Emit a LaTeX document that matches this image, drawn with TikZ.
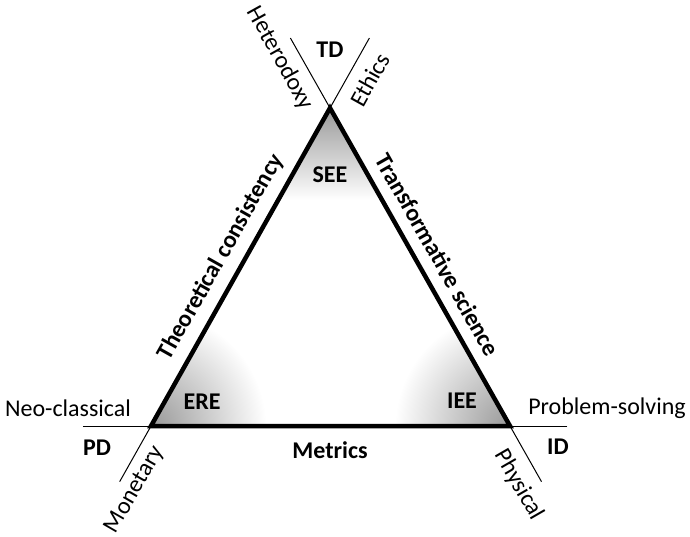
\documentclass[tikz,border=0pt]{standalone}
\usepackage{fontspec}
\setmainfont{Carlito}
\usetikzlibrary{calc}
\tikzstyle{pole}=[
   font=\fontsize{24}{28}\selectfont,
   inner sep=0pt
]
\tikzstyle{boldpole}=[
   font=\fontsize{24}{28}\selectfont\bfseries,
   inner sep=0pt
]
\tikzstyle{axisline}=[
   line width=1pt
]
\tikzstyle{sideline}=[
   line width=4.5pt,
   line join=miter
]
\tikzstyle{corner}=[
   inner color=black!40,
   outer color=white
]

\begin{document}
\begin{tikzpicture}[x=1pt, y=-1pt]
      \useasboundingbox (0,0) rectangle (690,536);

      % corners of the triangle
      \coordinate (A) at (330,108);
      \coordinate (B) at (151,426);
      \coordinate (C) at (510,426);

      % free ends of the axes
      \coordinate (ethicsend) at ($(A)!-0.22!(B)$);
      \coordinate (heteroend) at ($(A)!-0.22!(C)$);
      \coordinate (neoend) at ($(B)!-0.19!(C)$);
      \coordinate (moneyend) at ($(B)!-0.175!(A)$);
      \coordinate (probend) at ($(C)!-0.16!(B)$);
      \coordinate (physend) at ($(C)!-0.175!(A)$);

      \begin{scope}
         \clip (A) -- (B) -- (C) -- cycle;
         \shade[top color=black!40, bottom color=white] (240,108) rectangle (420,200);
         \shade[corner] (B) circle (115);
         \shade[corner] (C) circle (115);
      \end{scope}

      \draw[axisline] (heteroend) -- (A);
      \draw[axisline] (ethicsend) -- (A);
      \draw[axisline] (neoend) -- (B);
      \draw[axisline] (moneyend) -- (B);
      \draw[axisline] (probend) -- (C);
      \draw[axisline] (physend) -- (C);

      \draw[sideline] (A) -- (B) -- (C) -- cycle;

      \node (td) [boldpole] at (330,50) {TD};
      \node (hetero) [pole, rotate=-61] at (280,58) {Heterodoxy};
      \node (ethics) [pole, rotate=61] at (370,80) {Ethics};
      \node (see) [boldpole] at (330,175) {SEE};
      \node (theo) [boldpole, rotate=60.6] at (221,257) {Theoretical consistency};
      \node (trans) [boldpole, rotate=-60.5] at (438,255) {Transformative science};
      \node (ere) [boldpole] at (202,402) {ERE};
      \node (iee) [boldpole] at (462,401) {IEE};
      \node (neo) [pole] at (68,408) {Neo-classical};
      \node (prob) [pole] at (607,408) {Problem-solving};
      \node (pd) [boldpole] at (97,448) {PD};
      \node (id) [boldpole] at (558,447) {ID};
      \node (metrics) [boldpole] at (330,450) {Metrics};
      \node (money) [pole, rotate=60] at (135,490) {Monetary};
      \node (phys) [pole, rotate=-60] at (519,485) {Physical};

   \end{tikzpicture}
\end{document}
